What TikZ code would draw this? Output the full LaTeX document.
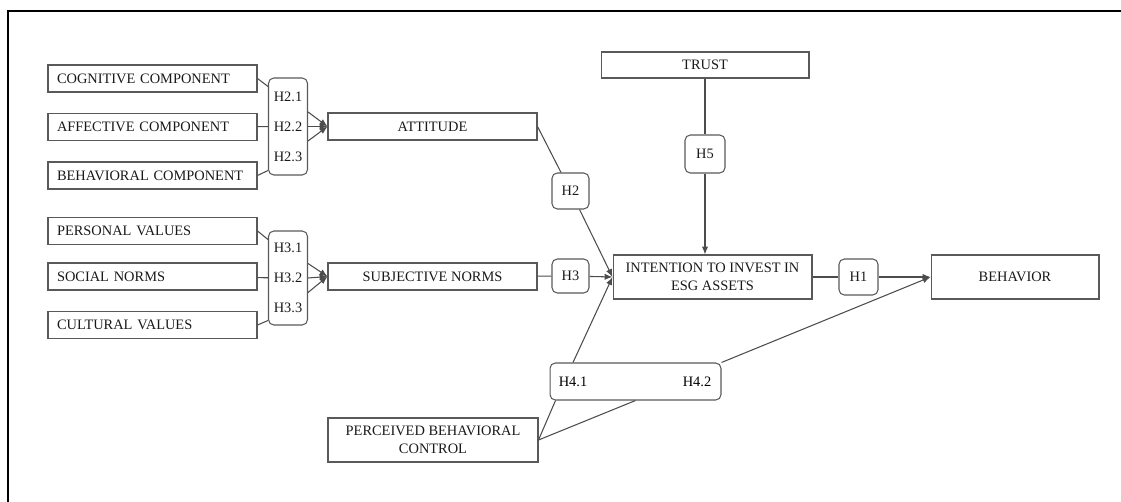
\documentclass[tikz,border=0pt]{standalone}
\usepackage{fontspec}
\setmainfont{Liberation Serif}
\usetikzlibrary{arrows.meta}

\begin{document}
\begin{tikzpicture}[x=0.02cm, y=-0.02cm, font=\fontsize{8.2}{10}\selectfont,
  box/.style={draw=black!65, line width=0.6pt, inner sep=0pt, text=black!90, minimum height=0.54cm},
  srcbox/.style={box, minimum width=4.18cm, text width=3.82cm, align=left},
  hyp/.style={draw=black!65, line width=0.6pt, rounded corners=3pt, inner sep=0pt, text=black!90},
  link/.style={draw=black!70, line width=0.6pt},
  >={Latex[length=4.5pt,width=3.6pt]}]
\useasboundingbox (0,0) rectangle (1121,502);
% frame of the screenshot
\draw[line width=1.1pt] (8,502) -- (8,11) -- (1121,11);
% left column
\node[srcbox] (cog) at (152.5,78.5) {COGNITIVE COMPONENT};
\node[srcbox] (aff) at (152.5,127) {AFFECTIVE COMPONENT};
\node[srcbox] (beh) at (152.5,175.5) {BEHAVIORAL COMPONENT};
\node[srcbox] (per) at (152.5,231) {PERSONAL VALUES};
\node[srcbox] (soc) at (152.5,276.5) {SOCIAL NORMS};
\node[srcbox] (cul) at (152.5,325) {CULTURAL VALUES};
% grouped hypotheses
\node[hyp, minimum width=0.78cm, minimum height=1.94cm, align=center,
  font=\fontsize{8.2}{17}\selectfont] (hA) at (288,126.5) {H2.1\\H2.2\\H2.3};
\node[hyp, minimum width=0.78cm, minimum height=1.88cm, align=center,
  font=\fontsize{8.2}{17}\selectfont] (hB) at (288,278) {H3.1\\H3.2\\H3.3};
% constructs
\node[box, minimum width=4.18cm] (att) at (432.5,126.5) {ATTITUDE};
\node[box, minimum width=4.18cm] (sub) at (432.5,276.5) {SUBJECTIVE NORMS};
\node[box, minimum width=4.16cm, minimum height=0.52cm] (trust) at (705,65) {TRUST};
\node[box, minimum width=3.98cm, minimum height=0.88cm, align=center] (int) at (712.5,277) {INTENTION TO INVEST IN\\ESG ASSETS};
\node[box, minimum width=3.36cm, minimum height=0.88cm] (bhv) at (1015,277) {BEHAVIOR};
\node[box, minimum width=4.2cm, minimum height=0.88cm, align=center] (pbc) at (433,440) {PERCEIVED BEHAVIORAL\\CONTROL};
% single hypotheses
\node[hyp, minimum width=0.74cm, minimum height=0.72cm] (h2) at (570.5,191) {H2};
\node[hyp, minimum width=0.74cm, minimum height=0.68cm] (h3) at (570.5,276) {H3};
\node[hyp, minimum width=0.78cm, minimum height=0.72cm] (h1) at (858.5,277) {H1};
\node[hyp, minimum width=0.8cm, minimum height=0.76cm] (h5) at (705,154) {H5};
\node[hyp, minimum width=3.42cm, minimum height=0.74cm] (h4) at (635.5,381.5) {};
\node (h41) at (573,382) {H4.1};
\node (h42) at (697,382) {H4.2};
% connectors
\draw[link] (cog.east) -- ([yshift=-0.18cm]hA.north west);
\draw[link] (aff) -- (hA);
\draw[link] (beh.east) -- ([yshift=0.1cm]hA.south west);
\draw[link] (per.east) -- ([yshift=-0.18cm]hB.north west);
\draw[link] (soc) -- (hB);
\draw[link] (cul.east) -- ([yshift=0.1cm]hB.south west);
\foreach \dy in {0.29cm,0cm,-0.29cm} {
  \draw[link,->] ([yshift=\dy]hA.east) -- (att.west);
  \draw[link,->] ([yshift=\dy]hB.east) -- (sub.west);
}
\draw[link] (att.east) -- (h2);
\draw[link,->] (h2) -- (int.west);
\draw[link] (sub) -- (h3);
\draw[link,->] (h3) -- (int.west);
\draw[link] (trust) -- (h5);
\draw[link,->] (h5) -- (h5 |- int.north);
\draw[link] (int) -- (h1);
\draw[link,->] (h1) -- (bhv.west);
\draw[link] (pbc.east) -- ([xshift=0.12cm]h4.south west);
\draw[link] (pbc.east) -- (h4.south);
\draw[link,->] (h41 |- h4.north) -- (int.west);
\draw[link,->] (h4.north east) -- (bhv.west);
\end{tikzpicture}
\end{document}
